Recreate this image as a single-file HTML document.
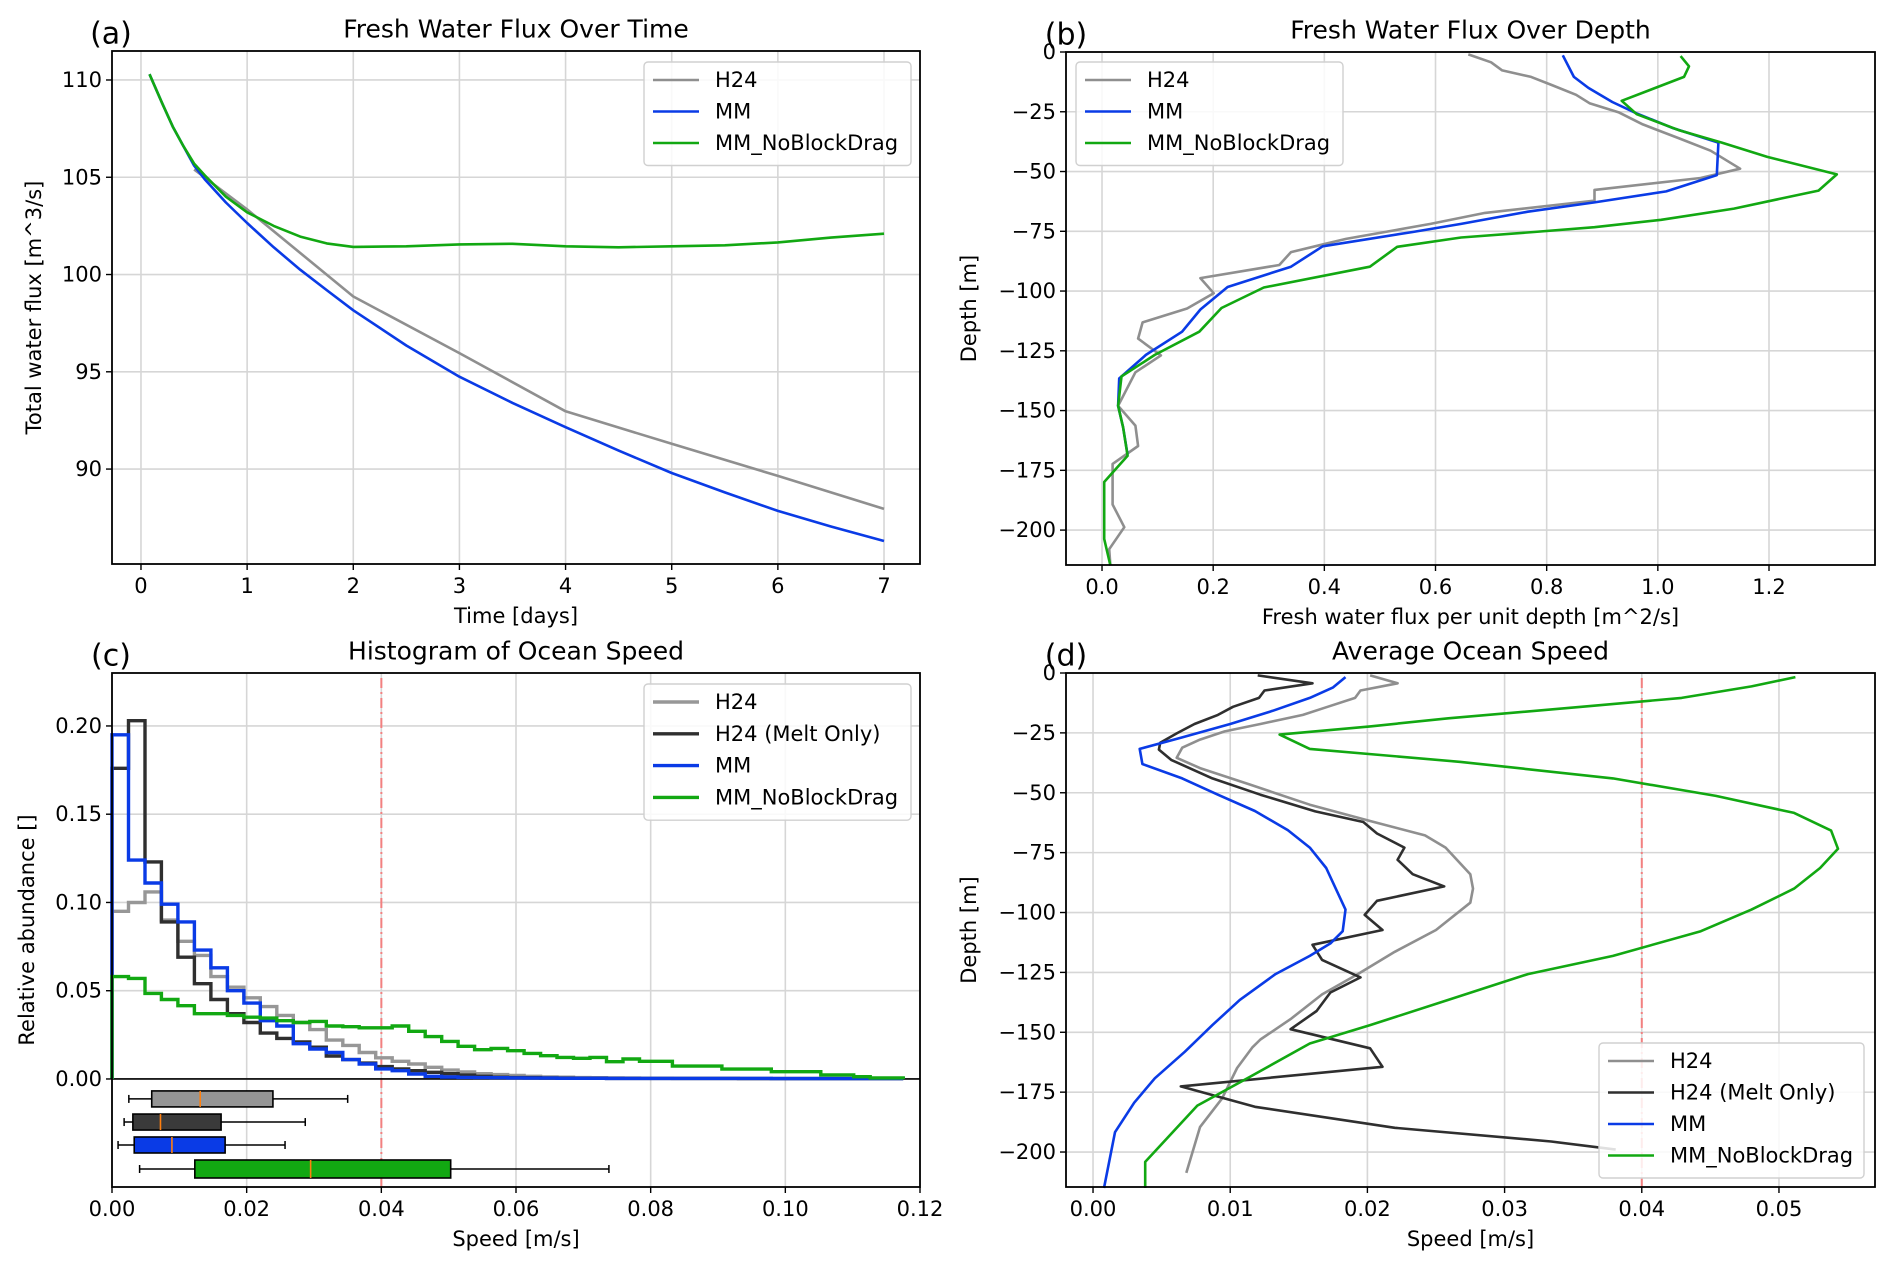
<!DOCTYPE html>
<html><head><meta charset="utf-8"><style>
body{margin:0;background:#fff;}
svg{display:block;font-family:"DejaVu Sans","Liberation Sans",sans-serif;}
</style></head><body>
<svg id="fig" width="1892" height="1268" viewBox="0 0 1892 1268" xmlns="http://www.w3.org/2000/svg"></svg>
<script>
// ---------- Panel (a) data ----------
const aTimes=[0.08,0.2,0.3,0.4,0.5,0.6,0.8,1.0,1.25,1.5,1.75,2,2.5,3,3.5,4,4.5,5,5.5,6,6.5,7];
const aMM=[110.3,108.8,107.6,106.6,105.6,104.9,103.7,102.65,101.4,100.25,99.2,98.16,96.35,94.75,93.4,92.15,90.95,89.8,88.8,87.85,87.05,86.3];
const aGreen=[110.3,108.8,107.6,106.6,105.7,105.1,104.0,103.2,102.5,101.95,101.6,101.42,101.45,101.55,101.58,101.45,101.4,101.45,101.5,101.65,101.9,102.1];
const aH24Times=[0.5,1,2,3,4,5,6,7];
const aH24=[105.4,103.35,98.87,95.96,92.97,91.3,89.65,87.95];
const aXTicks=[0,1,2,3,4,5,6,7];
const aYTicks=[90,95,100,105,110];
// ---------- Panel (b) data ----------
const bH24Flux=[0.659,0.700,0.720,0.772,0.809,0.853,0.877,0.929,0.973,1.039,1.095,1.148,1.077,0.886,0.886,0.689,0.591,0.439,0.399,0.340,0.319,0.177,0.201,0.153,0.073,0.065,0.106,0.060,0.029,0.060,0.065,0.019,0.019,0.040,0.013,0.015];
const bH24Depth=[-1,-4.3,-7.7,-10.4,-13.8,-17.9,-21.4,-25.2,-30.3,-36.2,-41.3,-48.8,-52.7,-57.7,-62.2,-67.3,-71.9,-78.2,-80.4,-83.7,-89.1,-94.6,-100.9,-107.3,-113.1,-119.9,-126.9,-134,-148,-156.3,-164.8,-172.3,-189.3,-198.8,-208,-214.8];
const bMMFlux=[0.829,0.849,0.875,0.918,0.962,1.028,1.109,1.106,1.015,0.886,0.766,0.646,0.559,0.397,0.340,0.226,0.177,0.144,0.079,0.031,0.029,0.038,0.046];
const bMMDepth=[-1.4,-10.4,-15,-20.9,-25.7,-31.9,-37.9,-51.5,-58.3,-62.9,-66.8,-71.9,-75.3,-81.3,-89.8,-98.3,-107.7,-117,-126.7,-136.6,-148,-157,-168.5];
const bGreenFlux=[1.041,1.056,1.047,0.935,0.962,1.039,1.115,1.197,1.322,1.289,1.137,1.006,0.886,0.777,0.646,0.531,0.482,0.291,0.215,0.175,0.095,0.035,0.029,0.038,0.046,0.004,0.004,0.015];
const bGreenDepth=[-1.7,-6,-10.4,-20.4,-26,-32.8,-37.9,-43.9,-51.2,-58,-65.5,-70.2,-73.3,-75.3,-77.6,-81.5,-89.8,-98.5,-107.1,-117,-126.7,-135.7,-148,-157,-168.9,-179.9,-203.7,-214.8];
const bXTicks=[0,0.2,0.4,0.6,0.8,1.0,1.2];
const bYTicks=[0,-25,-50,-75,-100,-125,-150,-175,-200];
// ---------- Panel (c) data ----------
const cBinWidth=0.002448;
const cH24=[0.095,0.100,0.106,0.090,0.078,0.070,0.058,0.052,0.046,0.041,0.036,0.032,0.028,0.022,0.019,0.015,0.012,0.010,0.0085,0.0066,0.005,0.004,0.003,0.0025,0.002,0.0015,0.0012,0.001,0.0008,0.0007,0.0006,0.0005,0.0004,0.0004,0.0003,0.0003,0.0003,0.0003,0.0003,0.0003,0.0002,0.0002,0.0002,0.0002,0.0002,0.0002,0.0002,0.0002];
const cMelt=[0.176,0.203,0.123,0.089,0.069,0.054,0.045,0.037,0.032,0.026,0.023,0.021,0.018,0.013,0.011,0.009,0.007,0.0057,0.0047,0.0038,0.003,0.0022,0.0015,0.001,0.0008,0.0007,0.0006,0.0005,0.0004,0.0004,0.0003,0.0003,0.0003,0.0003,0.0003,0.0003,0.0003,0.0003,0.0002,0.0002,0.0002,0.0002,0.0002,0.0002,0.0002,0.0002,0.0002,0.0002];
const cMM=[0.195,0.124,0.111,0.099,0.089,0.073,0.063,0.050,0.043,0.033,0.030,0.020,0.017,0.015,0.011,0.0085,0.0057,0.0047,0.0028,0.0015,0.0011,0.0009,0.0008,0.0007,0.0006,0.0005,0.0005,0.0004,0.0004,0.0004,0.0003,0.0003,0.0003,0.0003,0.0003,0.0003,0.0003,0.0003,0.0003,0.0003,0.0002,0.0002,0.0002,0.0002,0.0002,0.0002,0.0002,0.0002];
const cGreen=[0.058,0.057,0.0485,0.045,0.0415,0.037,0.037,0.036,0.035,0.0345,0.033,0.032,0.0326,0.030,0.0296,0.029,0.029,0.030,0.027,0.024,0.0213,0.0185,0.0166,0.0173,0.016,0.0145,0.0132,0.0122,0.0117,0.0122,0.0098,0.0113,0.010,0.010,0.0073,0.0073,0.0073,0.0056,0.0056,0.0056,0.0041,0.0041,0.0041,0.0023,0.0023,0.0013,0.0006,0.0006];
const cBoxLo=[0.0025,0.0018,0.0009,0.0041];
const cBoxQ1=[0.0059,0.0031,0.0033,0.0123];
const cBoxMed=[0.0131,0.0072,0.0089,0.0295];
const cBoxQ3=[0.0239,0.0162,0.0168,0.0503];
const cBoxHi=[0.035,0.0287,0.0257,0.0738];
const cBoxPos=[-0.0113,-0.0244,-0.0374,-0.051];
const cXTicks=[0,0.02,0.04,0.06,0.08,0.10,0.12];
const cYTicks=[0,0.05,0.10,0.15,0.20];
// ---------- Panel (d) data ----------
const dH24Speed=[0.0202,0.0222,0.0195,0.0191,0.0171,0.0153,0.0122,0.0096,0.0078,0.0065,0.0061,0.0078,0.0114,0.0158,0.0202,0.0242,0.0257,0.0275,0.0277,0.0275,0.0250,0.0220,0.0193,0.0167,0.0144,0.0122,0.0116,0.0105,0.0094,0.0078,0.0068];
const dH24Depth=[-1,-4.3,-7.3,-10.4,-14.1,-17.5,-21.3,-24.4,-27.8,-31.2,-35.4,-39.7,-46.5,-55,-61.8,-67.8,-72.9,-84,-90,-95.9,-107.3,-116.4,-125.7,-134.2,-144.5,-153,-156.4,-164.9,-177.7,-189.6,-208.7];
const dMeltSpeed=[0.0120,0.0160,0.0125,0.0121,0.0102,0.0091,0.0074,0.0061,0.0049,0.0048,0.0057,0.0087,0.0122,0.0162,0.0197,0.0207,0.0227,0.0222,0.0233,0.0256,0.0207,0.0198,0.0211,0.0160,0.0167,0.0195,0.0173,0.0163,0.0144,0.0202,0.0211,0.0064,0.0118,0.0220,0.0334,0.0381];
const dMeltDepth=[-1,-4.3,-7.3,-10.4,-14.1,-17.5,-21.3,-25.2,-29.1,-32,-36.3,-44,-50.8,-57.8,-62.2,-67,-72.9,-78,-84,-89.1,-95.1,-101,-107.3,-113.5,-119.8,-127.1,-133.4,-141.1,-148.7,-156.7,-164.4,-172.6,-181.1,-189.9,-195.6,-199];
const dMMSpeed=[0.0184,0.0175,0.0158,0.0131,0.0100,0.0065,0.0034,0.0036,0.0065,0.0091,0.0118,0.0142,0.0158,0.0170,0.0184,0.0182,0.0173,0.0158,0.0133,0.0107,0.0087,0.0067,0.0045,0.0030,0.0016,0.0008];
const dMMDepth=[-1.7,-6,-10.4,-15.8,-21.3,-26.9,-31.7,-38,-44,-50.8,-57.6,-65.6,-72.9,-81.4,-98.8,-107.8,-112.9,-118.1,-125.7,-136.5,-147,-158.1,-169.2,-179.4,-191.7,-215];
const dGreenSpeed=[0.0512,0.0480,0.0429,0.0356,0.0259,0.0202,0.0136,0.0158,0.0268,0.0379,0.0454,0.0511,0.0538,0.0543,0.0530,0.0511,0.0480,0.0443,0.0379,0.0317,0.0259,0.0202,0.0158,0.0114,0.0076,0.0038,0.0038];
const dGreenDepth=[-1.7,-5.6,-10.4,-14.1,-18.9,-22.3,-25.7,-31.7,-37.1,-44,-51.3,-58.4,-65.8,-73.4,-81.4,-90,-98.8,-107.8,-118.1,-125.7,-136.5,-147,-154.7,-168.7,-180.6,-204.1,-215];
const dXTicks=[0,0.01,0.02,0.03,0.04,0.05];
const dYTicks=[0,-25,-50,-75,-100,-125,-150,-175,-200];

const C={gray:'#8f8f8f',blue:'#0a3be6',green:'#12a812',dark:'#2f2f2f',red:'#f28080'};
const FT=21, FL=21, FTITLE=25, FLEG=21, FLET=30;
const NS='http://www.w3.org/2000/svg';
const svg=document.getElementById('fig');
function mk(tag,attrs,parent){const e=document.createElementNS(NS,tag);for(const k in attrs)e.setAttribute(k,attrs[k]);(parent||svg).appendChild(e);return e;}
function txt(s,x,y,size,anchor,parent,extra){const t=mk('text',Object.assign({x:x,y:y,'font-size':size,'text-anchor':anchor||'middle','dominant-baseline':'central',fill:'#000'},extra||{}),parent);t.textContent=s;return t;}
function fmt(v,d){const s=Math.abs(v).toFixed(d);return (v<0?'\u2212':'')+s;}

function axes(name,L,R,T,B,xmin,xmax,ymin,ymax){
  const g=mk('g',{});
  
  
  return {g,L,R,T,B,sx:v=>L+(v-xmin)/(xmax-xmin)*(R-L),sy:v=>B-(v-ymin)/(ymax-ymin)*(B-T)};
}
function grid(ax,xt,yt){
  const gg=mk('g',{},ax.g);
  
  
  xt.forEach(v=>{const x=ax.sx(v);mk('line',{x1:x,x2:x,y1:ax.T,y2:ax.B,stroke:'#d6d6d6','stroke-width':1.6},gg);});
  yt.forEach(v=>{const y=ax.sy(v);mk('line',{x1:ax.L,x2:ax.R,y1:y,y2:y,stroke:'#d6d6d6','stroke-width':1.6},gg);});
}
function ticks(ax,xt,yt,xd,yd){
  const xg=mk('g',{},ax.g);
  
  
  xt.forEach(v=>{const x=ax.sx(v);mk('line',{x1:x,x2:x,y1:ax.B,y2:ax.B+6,stroke:'#000','stroke-width':1.4},xg);txt(fmt(v,xd),x,ax.B+22,FT,'middle',xg);});
  const yg=mk('g',{},ax.g);
  
  
  yt.forEach(v=>{const y=ax.sy(v);mk('line',{x1:ax.L-6,x2:ax.L,y1:y,y2:y,stroke:'#000','stroke-width':1.4},yg);txt(fmt(v,yd),ax.L-10,y,FT,'end',yg);});
}
function frame(ax){mk('rect',{x:ax.L,y:ax.T,width:ax.R-ax.L,height:ax.B-ax.T,fill:'none',stroke:'#000','stroke-width':1.8},ax.g);}
function line(ax,xs,ys,color,name,w){
  let d='';xs.forEach((v,i)=>{d+=(i?'L':'M')+ax.sx(v).toFixed(1)+' '+ax.sy(ys[i]).toFixed(1);});
  const p=mk('path',{d:d,fill:'none',stroke:color,'stroke-width':w||2.6,'stroke-linejoin':'round'},ax.g);
  
  
}
function labels(ax,title,letter,xl,yl,ylx,letterX){
  const t=txt(title,(ax.L+ax.R)/2,ax.T-22,FTITLE,'middle',ax.g);
  
  
  const l=txt(letter,letterX,ax.T-17,FLET,'middle',ax.g);
  
  
  const x=txt(xl,(ax.L+ax.R)/2,ax.B+52,FL,'middle',ax.g);
  
  
  const cy=(ax.T+ax.B)/2;
  const y=txt(yl,ylx,cy,FL,'middle',ax.g,{transform:'rotate(-90 '+ylx+' '+cy+')'});
  
  
}
function legend(ax,x,y,w,entries,step,lw){
  const g=mk('g',{},ax.g);
  
  
  mk('rect',{x:x,y:y,width:w,height:entries.length*step+9,rx:4,fill:'#fff','fill-opacity':0.85,stroke:'#d0d0d0','stroke-width':1.4},g);
  entries.forEach((e,i)=>{
    const cy=y+18+i*step;
    const eg=mk('g',{},g);
    
    
    mk('line',{x1:x+9,x2:x+55,y1:cy,y2:cy,stroke:e[1],'stroke-width':lw},eg);
    txt(e[0],x+71,cy,FLEG,'start',eg);
  });
}

// ---- Panel a ----
(function(){
  const ax=axes('panel-a-flux-over-time',112,920,51,564,-0.273,7.339,85.12,111.49);
  grid(ax,aXTicks,aYTicks);
  line(ax,aH24Times,aH24,C.gray,'line-h24');
  line(ax,aTimes,aMM,C.blue,'line-mm');
  line(ax,aTimes,aGreen,C.green,'line-mm-noblockdrag');
  frame(ax);ticks(ax,aXTicks,aYTicks,0,0);
  labels(ax,'Fresh Water Flux Over Time','(a)','Time [days]','Total water flux [m^3/s]',34,111);
  legend(ax,644,62,267,[['H24',C.gray],['MM',C.blue],['MM_NoBlockDrag',C.green]],31.5,2.6);
})();
// ---- Panel b ----
(function(){
  const ax=axes('panel-b-flux-over-depth',1066,1875,52,565,-0.0648,1.3907,-214.6,0);
  grid(ax,bXTicks,bYTicks);
  line(ax,bH24Flux,bH24Depth,C.gray,'line-h24');
  line(ax,bMMFlux,bMMDepth,C.blue,'line-mm');
  line(ax,bGreenFlux,bGreenDepth,C.green,'line-mm-noblockdrag');
  frame(ax);ticks(ax,bXTicks,bYTicks,1,0);
  labels(ax,'Fresh Water Flux Over Depth','(b)','Fresh water flux per unit depth [m^2/s]','Depth [m]',969,1066);
  legend(ax,1076,62,267,[['H24',C.gray],['MM',C.blue],['MM_NoBlockDrag',C.green]],31.5,2.6);
})();
// ---- Panel c ----
(function(){
  const ax=axes('panel-c-speed-histogram',112,920,673,1187,0,0.12,-0.0612,0.230);
  grid(ax,cXTicks,cYTicks);
  const red=mk('line',{x1:ax.sx(0.04),x2:ax.sx(0.04),y1:ax.T+5,y2:ax.B,stroke:C.red,'stroke-width':2,'stroke-dasharray':'10 4 2 4'},ax.g);
  
  
  mk('line',{x1:ax.L,x2:ax.R,y1:ax.sy(0),y2:ax.sy(0),stroke:'#000','stroke-width':1.6},ax.g);
  function hist(vals,color,name){
    let d='M'+ax.sx(0)+' '+ax.sy(0);
    vals.forEach((v,i)=>{d+='L'+ax.sx(i*cBinWidth).toFixed(1)+' '+ax.sy(v).toFixed(1)+'L'+ax.sx((i+1)*cBinWidth).toFixed(1)+' '+ax.sy(v).toFixed(1);});
    d+='L'+ax.sx(vals.length*cBinWidth).toFixed(1)+' '+ax.sy(0);
    const p=mk('path',{d:d,fill:'none',stroke:color,'stroke-width':3.4,'stroke-linejoin':'miter'},ax.g);
    
    
  }
  hist(cH24,'#979797','hist-h24');
  hist(cMelt,C.dark,'hist-h24-melt-only');
  hist(cMM,C.blue,'hist-mm');
  hist(cGreen,C.green,'hist-mm-noblockdrag');
  const fills=['#959595','#3a3a3a',C.blue,C.green];
  const names=['box-h24','box-h24-melt-only','box-mm','box-mm-noblockdrag'];
  cBoxPos.forEach((p,i)=>{
    const g=mk('g',{},ax.g);
    
    
    const cy=ax.sy(p),h=i===3?18:16;
    mk('line',{x1:ax.sx(cBoxLo[i]),x2:ax.sx(cBoxHi[i]),y1:cy,y2:cy,stroke:'#000','stroke-width':1.5},g);
    mk('line',{x1:ax.sx(cBoxLo[i]),x2:ax.sx(cBoxLo[i]),y1:cy-4,y2:cy+4,stroke:'#000','stroke-width':1.5},g);
    mk('line',{x1:ax.sx(cBoxHi[i]),x2:ax.sx(cBoxHi[i]),y1:cy-4,y2:cy+4,stroke:'#000','stroke-width':1.5},g);
    mk('rect',{x:ax.sx(cBoxQ1[i]),y:cy-h/2,width:ax.sx(cBoxQ3[i])-ax.sx(cBoxQ1[i]),height:h,fill:fills[i],stroke:'#000','stroke-width':1.6},g);
    mk('line',{x1:ax.sx(cBoxMed[i]),x2:ax.sx(cBoxMed[i]),y1:cy-h/2,y2:cy+h/2,stroke:'#ff7f0e','stroke-width':1.6},g);
  });
  frame(ax);ticks(ax,cXTicks,cYTicks,2,2);
  labels(ax,'Histogram of Ocean Speed','(c)','Speed [m/s]','Relative abundance []',27,111);
  legend(ax,644,684,267,[['H24','#979797'],['H24 (Melt Only)',C.dark],['MM',C.blue],['MM_NoBlockDrag',C.green]],31.8,3.4);
})();
// ---- Panel d ----
(function(){
  const ax=axes('panel-d-average-speed',1066,1875,673,1187,-0.00197,0.057,-214.6,0);
  grid(ax,dXTicks,dYTicks);
  const red=mk('line',{x1:ax.sx(0.04),x2:ax.sx(0.04),y1:ax.T+5,y2:ax.B,stroke:C.red,'stroke-width':2,'stroke-dasharray':'10 4 2 4'},ax.g);
  
  
  line(ax,dH24Speed,dH24Depth,C.gray,'line-h24');
  line(ax,dMeltSpeed,dMeltDepth,C.dark,'line-h24-melt-only');
  line(ax,dMMSpeed,dMMDepth,C.blue,'line-mm');
  line(ax,dGreenSpeed,dGreenDepth,C.green,'line-mm-noblockdrag');
  frame(ax);ticks(ax,dXTicks,dYTicks,2,0);
  labels(ax,'Average Ocean Speed','(d)','Speed [m/s]','Depth [m]',969,1066);
  legend(ax,1599,1043,265,[['H24',C.gray],['H24 (Melt Only)',C.dark],['MM',C.blue],['MM_NoBlockDrag',C.green]],31.5,2.6);
})();
</script>
</body></html>
